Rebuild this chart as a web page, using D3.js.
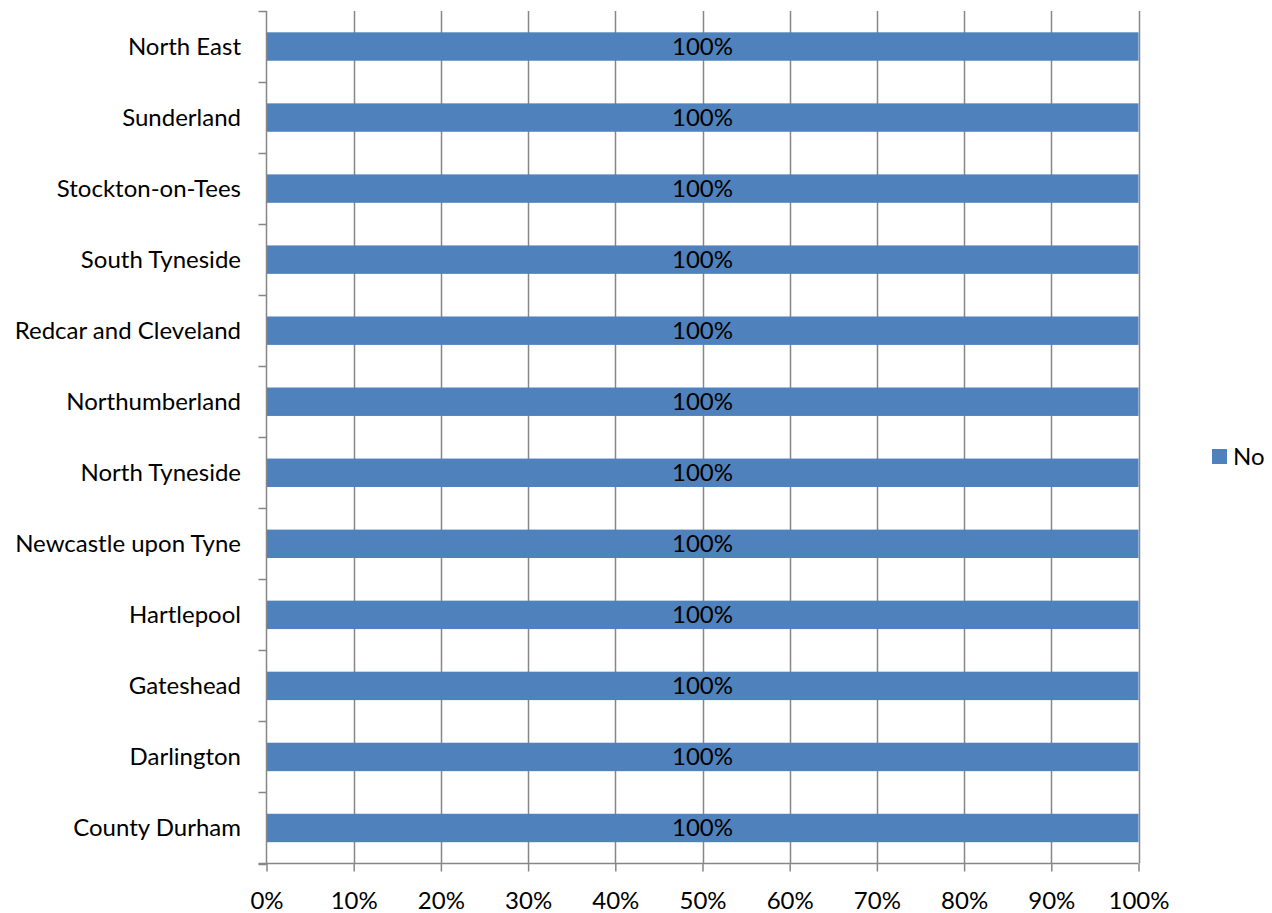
<!DOCTYPE html>
<html>
<head>
<meta charset="utf-8">
<script src="https://cdn.jsdelivr.net/npm/d3@7"></script>
<style>
body { margin: 0; background: #fff; }
text { font-family: Lato, "Open Sans", sans-serif; fill: #000; }
</style>
</head>
<body>
<div class="content"></div>
<script>
var categories = ["North East", "Sunderland", "Stockton-on-Tees", "South Tyneside", "Redcar and Cleveland",
  "Northumberland", "North Tyneside", "Newcastle upon Tyne", "Hartlepool", "Gateshead", "Darlington", "County Durham"];
var noValues = [100, 100, 100, 100, 100, 100, 100, 100, 100, 100, 100, 100];
var xTicks = [0, 10, 20, 30, 40, 50, 60, 70, 80, 90, 100];
var seriesName = "No";

var width = 1272, height = 913;
var fontSize = "24px";
var plotLeft = 266.5, plotRight = 1138.5, plotTop = 11, plotBottom = 863.5;
var svg = d3.select(".content").append("svg").attr("width", width).attr("height", height);

var x = d3.scaleLinear().domain([0, 100]).range([plotLeft, plotRight]);
var y = d3.scaleBand().domain(categories).range([plotTop, plotBottom]).paddingInner(0.6).paddingOuter(0.3);
var step = (plotBottom - plotTop) / categories.length;

// vertical gridlines
svg.append("g").selectAll("line").data(xTicks.slice(1)).enter().append("line")
  .attr("x1", function(d){ return Math.round(x(d)) + 0.5; })
  .attr("x2", function(d){ return Math.round(x(d)) + 0.5; })
  .attr("y1", plotTop).attr("y2", plotBottom)
  .attr("stroke", "#868686").attr("stroke-width", 1.5);

// bars
svg.append("g").selectAll("rect").data(noValues).enter().append("rect")
  .attr("x", x(0))
  .attr("y", function(d, i){ return y(categories[i]); })
  .attr("width", function(d){ return x(d) - x(0); })
  .attr("height", y.bandwidth())
  .attr("fill", "#4F81BD");

// data labels
svg.append("g").selectAll("text").data(noValues).enter().append("text")
  .attr("x", function(d){ return (x(0) + x(d)) / 2; })
  .attr("y", function(d, i){ return y(categories[i]) + y.bandwidth() / 2; })
  .attr("dy", "0.35em").attr("text-anchor", "middle")
  .style("font-size", fontSize)
  .text(function(d){ return d + "%"; });

// y axis line and ticks at band boundaries
svg.append("line").attr("x1", plotLeft).attr("x2", plotLeft).attr("y1", plotTop).attr("y2", plotBottom)
  .attr("stroke", "#868686").attr("stroke-width", 1.5);
var bounds = d3.range(categories.length + 1).map(function(i){ return plotTop + i * step; });
svg.append("g").selectAll("line").data(bounds).enter().append("line")
  .attr("x1", plotLeft - 8).attr("x2", plotLeft)
  .attr("y1", function(d){ return Math.round(d) + 0.5; })
  .attr("y2", function(d){ return Math.round(d) + 0.5; })
  .attr("stroke", "#868686").attr("stroke-width", 1.5);

// category labels
svg.append("g").selectAll("text").data(categories).enter().append("text")
  .attr("x", 241)
  .attr("y", function(d){ return y(d) + y.bandwidth() / 2; })
  .attr("dy", "0.35em").attr("text-anchor", "end")
  .style("font-size", fontSize)
  .text(function(d){ return d; });

// x axis
var xAxis = svg.append("g").attr("transform", "translate(0," + plotBottom + ")")
  .call(d3.axisBottom(x).tickValues(xTicks).tickSize(8).tickPadding(20).tickFormat(function(d){ return d + "%"; }));
xAxis.select(".domain").attr("stroke", "#868686").attr("stroke-width", 1.5).attr("d", "M" + (plotLeft - 8) + ",0H" + plotRight);
xAxis.selectAll(".tick line").attr("stroke", "#868686").attr("stroke-width", 1.5);
xAxis.selectAll(".tick text").style("font-size", fontSize).style("font-family", "Lato, 'Open Sans', sans-serif").attr("fill", "#000");

// legend
var lg = svg.append("g");
lg.append("rect").attr("x", 1212).attr("y", 449).attr("width", 15).attr("height", 15).attr("fill", "#4F81BD");
lg.append("text").attr("x", 1233).attr("y", 457).attr("dy", "0.35em").style("font-size", fontSize).text(seriesName);
</script>
</body>
</html>
